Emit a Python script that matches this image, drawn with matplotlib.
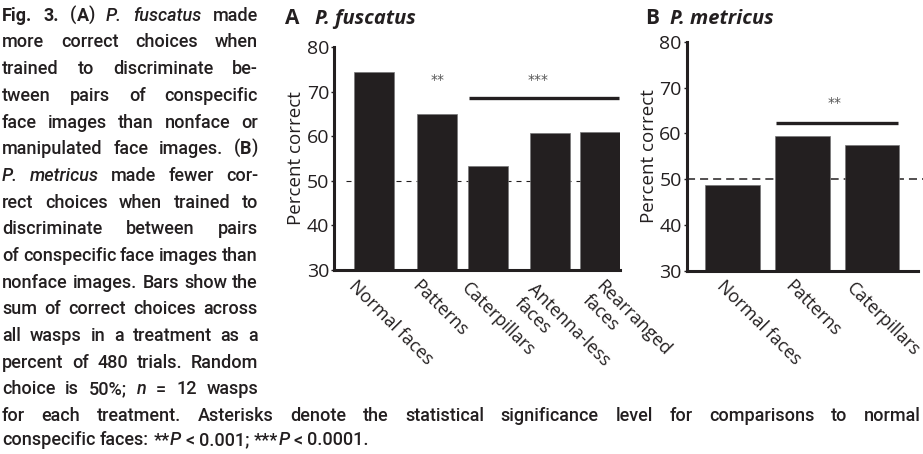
import numpy as np
import matplotlib
matplotlib.use('Agg')
import matplotlib.pyplot as plt
from matplotlib import transforms

# values (percent of 480 trials)
cats_a = ['Normal faces', 'Patterns', 'Caterpillars', 'Antenna-less\nfaces', 'Rearranged\nfaces']
vals_a = [74.4, 65.0, 53.3, 60.8, 61.0]
cats_b = ['Normal faces', 'Patterns', 'Caterpillars']
vals_b = [48.75, 59.4, 57.5]
yticks = [30, 40, 50, 60, 70, 80]
chance = 50

# caption text; ^ toggles bold, _ toggles italic
caption_col = [
    '^Fig. 3.^ (^A^) _P. fuscatus_ made',
    'more correct choices when',
    'trained to discriminate be-',
    'tween pairs of conspecific',
    'face images than nonface or',
    'manipulated face images. (^B^)',
    '_P. metricus_ made fewer cor-',
    'rect choices when trained to',
    'discriminate between pairs',
    'of conspecific face images than',
    'nonface images. Bars show the',
    'sum of correct choices across',
    'all wasps in a treatment as a',
    'percent of 480 trials. Random',
    'choice is 50%; _n_ = 12 wasps',
]
caption_wide = 'for each treatment. Asterisks denote the statistical significance level for comparisons to normal'
caption_last = 'conspecific faces: **_P_ < 0.001; ***_P_ < 0.0001.'

INK = '#231f20'
CHART_FONT = ['Open Sans', 'DejaVu Sans']
CAP_FONT = ['Roboto', 'DejaVu Sans']
CAP_SIZE = 13
CAP_WEIGHT = 'medium'

plt.rcParams['lines.scale_dashes'] = False

W, H = 923, 454
fig = plt.figure(figsize=(W / 100, H / 100), dpi=100)


def px_axes(left, right, top, bottom):
    return fig.add_axes([left / W, 1 - bottom / H, (right - left) / W, (bottom - top) / H])


def style_axes(ax, xmax, label_x):
    ax.set_ylim(30, 80)
    ax.set_xlim(0, xmax)
    ax.set_yticks(yticks)
    ax.set_xticks([])
    for s in ['top', 'right']:
        ax.spines[s].set_visible(False)
    for s in ['left', 'bottom']:
        ax.spines[s].set_linewidth(2.2)
        ax.spines[s].set_color(INK)
        ax.spines[s].set_zorder(5)
    ax.tick_params(axis='y', direction='out', length=2.4, width=1.0, pad=1.0,
                   color=INK, labelsize=14, labelcolor=INK)
    for t in ax.get_yticklabels():
        t.set_family(CHART_FONT)
    ax.set_ylabel('Percent correct', fontsize=13.5, family=CHART_FONT, color=INK)
    ax.yaxis.set_label_coords(label_x, 0.5)


def bar_labels(ax, pos, cats, nudges):
    # nudges: pixel offset of the last line's baseline start from the bar centre / axis
    for x, c, (dx, dy) in zip(pos, cats, nudges):
        tr = transforms.offset_copy(ax.get_xaxis_transform(), fig=fig, x=dx, y=-dy, units='dots')
        ax.text(x, 0, c, transform=tr, rotation=-45, rotation_mode='anchor',
                ha='left', va='baseline', fontsize=13, family=CHART_FONT, color=INK,
                linespacing=1.1, clip_on=False)


def stars(ax, x, y, s):
    ax.text(x, y, s, ha='center', va='center', fontsize=10, color='#555555',
            family='DejaVu Sans')


# ---- panel A ----
ax_a = px_axes(334, 620, 47, 270)
pos_a = [0.995, 2.562, 3.812, 5.339, 6.584]
ax_a.plot([0.3, 6.12], [chance, chance], color=INK, lw=0.8, dashes=[3.6, 3.6], zorder=1)
ax_a.bar(pos_a, vals_a, width=0.99, color=INK, edgecolor='#777777', linewidth=0.5, zorder=2)
style_axes(ax_a, 7.084, -0.1)
ax_a.plot([3.34, 7.05], [68.5, 68.5], color=INK, lw=2.4, solid_capstyle='butt', zorder=3)
stars(ax_a, 2.56, 72.6, '**')
stars(ax_a, 5.05, 72.6, '***')
bar_labels(ax_a, pos_a, cats_a,
           [(-26.6, 17.4), (-25.9, 17.1), (-27.1, 19.1), (-35.0, 32.8), (-17.1, 30.2)])

# ---- panel B ----
ax_b = px_axes(686.5, 918.3, 42, 270.7)
pos_b = [0.836, 2.109, 3.369]
ax_b.plot([0, 4.3], [chance, chance], color=INK, lw=1.1, dashes=[5.8, 3.6], zorder=1,
          clip_on=False)
ax_b.bar(pos_b, vals_b, width=0.99, color=INK, edgecolor='#777777', linewidth=0.5, zorder=2)
style_axes(ax_b, 4.215, -0.125)
ax_b.plot([1.627, 3.84], [62.35, 62.35], color=INK, lw=2.4, solid_capstyle='butt', zorder=3)
stars(ax_b, 2.7, 66.6, '**')
bar_labels(ax_b, pos_b, cats_b, [(-16.6, 16.7), (-18.3, 16.7), (-25.9, 18.4)])

# panel titles
for x0, x1, letter, name in [(285, 315, 'A', 'P. fuscatus'), (645, 670, 'B', 'P. metricus')]:
    fig.text(x0 / W, 1 - 24 / H, letter, fontsize=15, weight='bold', family=CHART_FONT,
             color=INK, va='baseline')
    fig.text(x1 / W, 1 - 24 / H, name, fontsize=14.5, weight='bold', style='italic',
             family=CHART_FONT, color=INK, va='baseline')

# ---- caption, set word by word so lines can be justified ----
renderer = fig.canvas.get_renderer()
ident = transforms.IdentityTransform()


def parse(line):
    words, cur, buf = [], [], ''
    bold = ital = False
    for ch in line + ' ':
        if ch in '^_ ':
            if buf:
                cur.append((buf, bold, ital))
                buf = ''
            if ch == '^':
                bold = not bold
            elif ch == '_':
                ital = not ital
            elif cur:
                words.append(cur)
                cur = []
        else:
            buf += ch
    return words


def text_width(s, bold, ital):
    t = fig.text(0, 0, s, fontsize=CAP_SIZE, family=CAP_FONT,
                 weight='bold' if bold else CAP_WEIGHT, style='italic' if ital else 'normal')
    w = t.get_window_extent(renderer).width
    t.remove()
    return w


def seg_width(s, bold, ital):
    return text_width(s + '|', bold, ital) - text_width('|', bold, ital)


space = text_width('a a', False, False) - text_width('aa', False, False)


def set_line(line, left, right, baseline, justify=True):
    words = parse(line)
    widths = [[seg_width(*seg) for seg in w] for w in words]
    total = sum(sum(ws) for ws in widths)
    gap = space
    if justify and len(words) > 1:
        gap = max((right - left - total) / (len(words) - 1), 0.6 * space)
    x = left
    for w, ws in zip(words, widths):
        for (s, bold, ital), sw in zip(w, ws):
            fig.text(x, H - baseline, s, transform=ident, fontsize=CAP_SIZE, family=CAP_FONT,
                     weight='bold' if bold else CAP_WEIGHT,
                     style='italic' if ital else 'normal', color=INK,
                     ha='left', va='baseline')
            x += sw
        x += gap


for i, line in enumerate(caption_col):
    set_line(line, 2, 258, 20.7 + 26.7 * i)
set_line(caption_wide, 2, 921, 421)
set_line(caption_last, 2, 921, 445, justify=False)

fig.savefig('out.png', dpi=100, facecolor='white')
